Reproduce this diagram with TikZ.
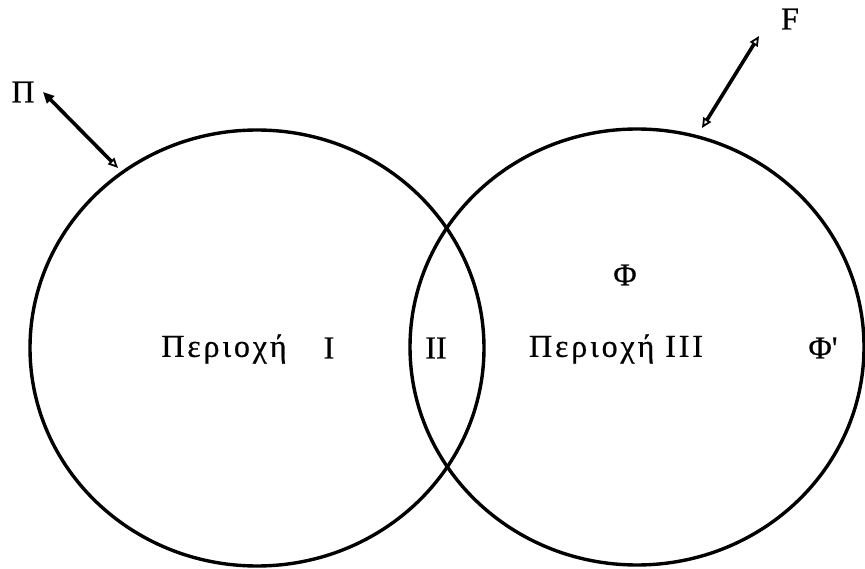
\documentclass[tikz,border=0pt]{standalone}
\usepackage{fontspec}
\setmainfont{Liberation Serif}[FakeBold=0.6]
\usetikzlibrary{shapes.geometric,arrows.meta}
\tikzset{
  region/.style={draw, ellipse, line width=3.4pt, inner sep=0pt},
  lbl/.style={font=\fontsize{32}{35}\selectfont, inner sep=0pt},
  dbl/.style={line width=3.6pt},
}
\begin{document}
\begin{tikzpicture}[x=1pt,y=-1pt]
\useasboundingbox (0,0) rectangle (865,569);
\node[region, minimum width=454pt, minimum height=436pt] (L) at (257,348) {};
\node[region, minimum width=454pt, minimum height=436pt] (R) at (637,347) {};
\node[lbl] (pi) at (23,92) {Π};
\node[lbl] (f) at (790,19) {F};
\node[lbl] (p1) at (224,349) {\addfontfeature{LetterSpace=9}Περιοχή};
\node[lbl] (i1) at (329,348) {I};
\node[lbl] (i2) at (436,348) {II};
\node[lbl] (p3) at (616,349) {\addfontfeature{LetterSpace=9}Περιοχή III};
\node[lbl] (phi) at (625,275) {Φ};
\node[lbl] (phip) at (823,348) {Φ\textquotesingle};
\coordinate (pa) at (43,92);
\coordinate (pb) at (118,168);
\coordinate (fa) at (759,36);
\coordinate (fb) at (702,128);
\draw[dbl, {Triangle[length=11pt,width=10pt]}-{Triangle[open,length=10pt,width=9pt,line width=1.8pt]}] (pa) -- (pb);
\draw[dbl, {Triangle[open,length=10pt,width=9pt,line width=1.8pt]}-{Triangle[open,length=10pt,width=9pt,line width=1.8pt]}] (fa) -- (fb);
\end{tikzpicture}
\end{document}
